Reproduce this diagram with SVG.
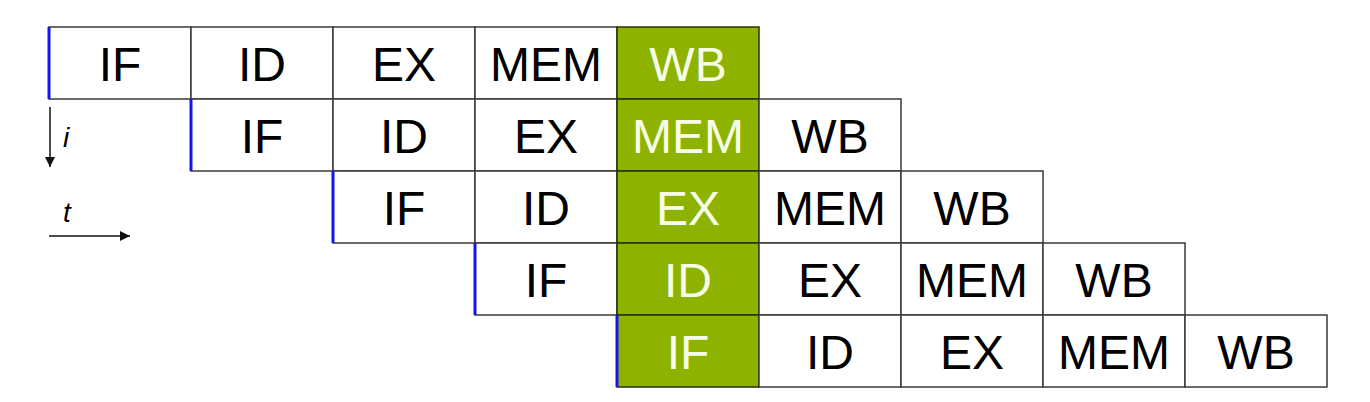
<svg xmlns="http://www.w3.org/2000/svg" width="1370" height="402" viewBox="0 0 1370 402">
<defs>
<style>
.c{fill:#fff;stroke:#3a3a3a;stroke-width:1.5}
.g{fill:#8db300;stroke:#2a3000;stroke-width:1.5}
.t{font-family:"Liberation Sans",Arial,sans-serif;font-size:48px;text-anchor:middle;fill:#000}
.w{fill:#f6ffe6}
.b{stroke:#1414f0;stroke-width:3}
.a{stroke:#111;stroke-width:1.5;fill:none}
.l{font-family:"Liberation Sans",Arial,sans-serif;font-size:28px;font-style:italic;fill:#000}
</style>
<marker id="ah" viewBox="0 0 10 10" refX="10" refY="5" markerWidth="11" markerHeight="10" markerUnits="userSpaceOnUse" orient="auto"><path d="M0,0L10,5L0,10z" fill="#111"/></marker>
</defs>
<rect width="1370" height="402" fill="#fff"/>
<!-- row 1 -->
<g id="r1c1"><rect class="c" x="49" y="27" width="142" height="72"/><text class="t" x="120" y="81">IF</text></g>
<g id="r1c2"><rect class="c" x="191" y="27" width="142" height="72"/><text class="t" x="262" y="81">ID</text></g>
<g id="r1c3"><rect class="c" x="333" y="27" width="142" height="72"/><text class="t" x="404" y="81">EX</text></g>
<g id="r1c4"><rect class="c" x="475" y="27" width="142" height="72"/><text class="t" x="546" y="81">MEM</text></g>
<g id="r1c5"><rect class="g" x="617" y="27" width="142" height="72"/><text class="t w" x="688" y="81">WB</text></g>
<!-- row 2 -->
<g id="r2c1"><rect class="c" x="191" y="99" width="142" height="72"/><text class="t" x="262" y="153">IF</text></g>
<g id="r2c2"><rect class="c" x="333" y="99" width="142" height="72"/><text class="t" x="404" y="153">ID</text></g>
<g id="r2c3"><rect class="c" x="475" y="99" width="142" height="72"/><text class="t" x="546" y="153">EX</text></g>
<g id="r2c4"><rect class="g" x="617" y="99" width="142" height="72"/><text class="t w" x="688" y="153">MEM</text></g>
<g id="r2c5"><rect class="c" x="759" y="99" width="142" height="72"/><text class="t" x="830" y="153">WB</text></g>
<!-- row 3 -->
<g id="r3c1"><rect class="c" x="333" y="171" width="142" height="72"/><text class="t" x="404" y="225">IF</text></g>
<g id="r3c2"><rect class="c" x="475" y="171" width="142" height="72"/><text class="t" x="546" y="225">ID</text></g>
<g id="r3c3"><rect class="g" x="617" y="171" width="142" height="72"/><text class="t w" x="688" y="225">EX</text></g>
<g id="r3c4"><rect class="c" x="759" y="171" width="142" height="72"/><text class="t" x="830" y="225">MEM</text></g>
<g id="r3c5"><rect class="c" x="901" y="171" width="142" height="72"/><text class="t" x="972" y="225">WB</text></g>
<!-- row 4 -->
<g id="r4c1"><rect class="c" x="475" y="243" width="142" height="72"/><text class="t" x="546" y="297">IF</text></g>
<g id="r4c2"><rect class="g" x="617" y="243" width="142" height="72"/><text class="t w" x="688" y="297">ID</text></g>
<g id="r4c3"><rect class="c" x="759" y="243" width="142" height="72"/><text class="t" x="830" y="297">EX</text></g>
<g id="r4c4"><rect class="c" x="901" y="243" width="142" height="72"/><text class="t" x="972" y="297">MEM</text></g>
<g id="r4c5"><rect class="c" x="1043" y="243" width="142" height="72"/><text class="t" x="1114" y="297">WB</text></g>
<!-- row 5 -->
<g id="r5c1"><rect class="g" x="617" y="315" width="142" height="72"/><text class="t w" x="688" y="369">IF</text></g>
<g id="r5c2"><rect class="c" x="759" y="315" width="142" height="72"/><text class="t" x="830" y="369">ID</text></g>
<g id="r5c3"><rect class="c" x="901" y="315" width="142" height="72"/><text class="t" x="972" y="369">EX</text></g>
<g id="r5c4"><rect class="c" x="1043" y="315" width="142" height="72"/><text class="t" x="1114" y="369">MEM</text></g>
<g id="r5c5"><rect class="c" x="1185" y="315" width="142" height="72"/><text class="t" x="1256" y="369">WB</text></g>
<!-- blue start edges -->
<g id="starts">
<line class="b" x1="49" y1="27" x2="49" y2="99"/>
<line class="b" x1="191" y1="99" x2="191" y2="171"/>
<line class="b" x1="333" y1="171" x2="333" y2="243"/>
<line class="b" x1="475" y1="243" x2="475" y2="315"/>
<line class="b" x1="617" y1="315" x2="617" y2="387"/>
</g>
<g id="connectors">
<line class="a" x1="50" y1="107" x2="50" y2="167" marker-end="url(#ah)"/>
<line class="a" x1="49" y1="236" x2="130" y2="236" marker-end="url(#ah)"/>
</g>
<text class="l" x="63" y="147">i</text>
<text class="l" x="63" y="222">t</text>
</svg>
